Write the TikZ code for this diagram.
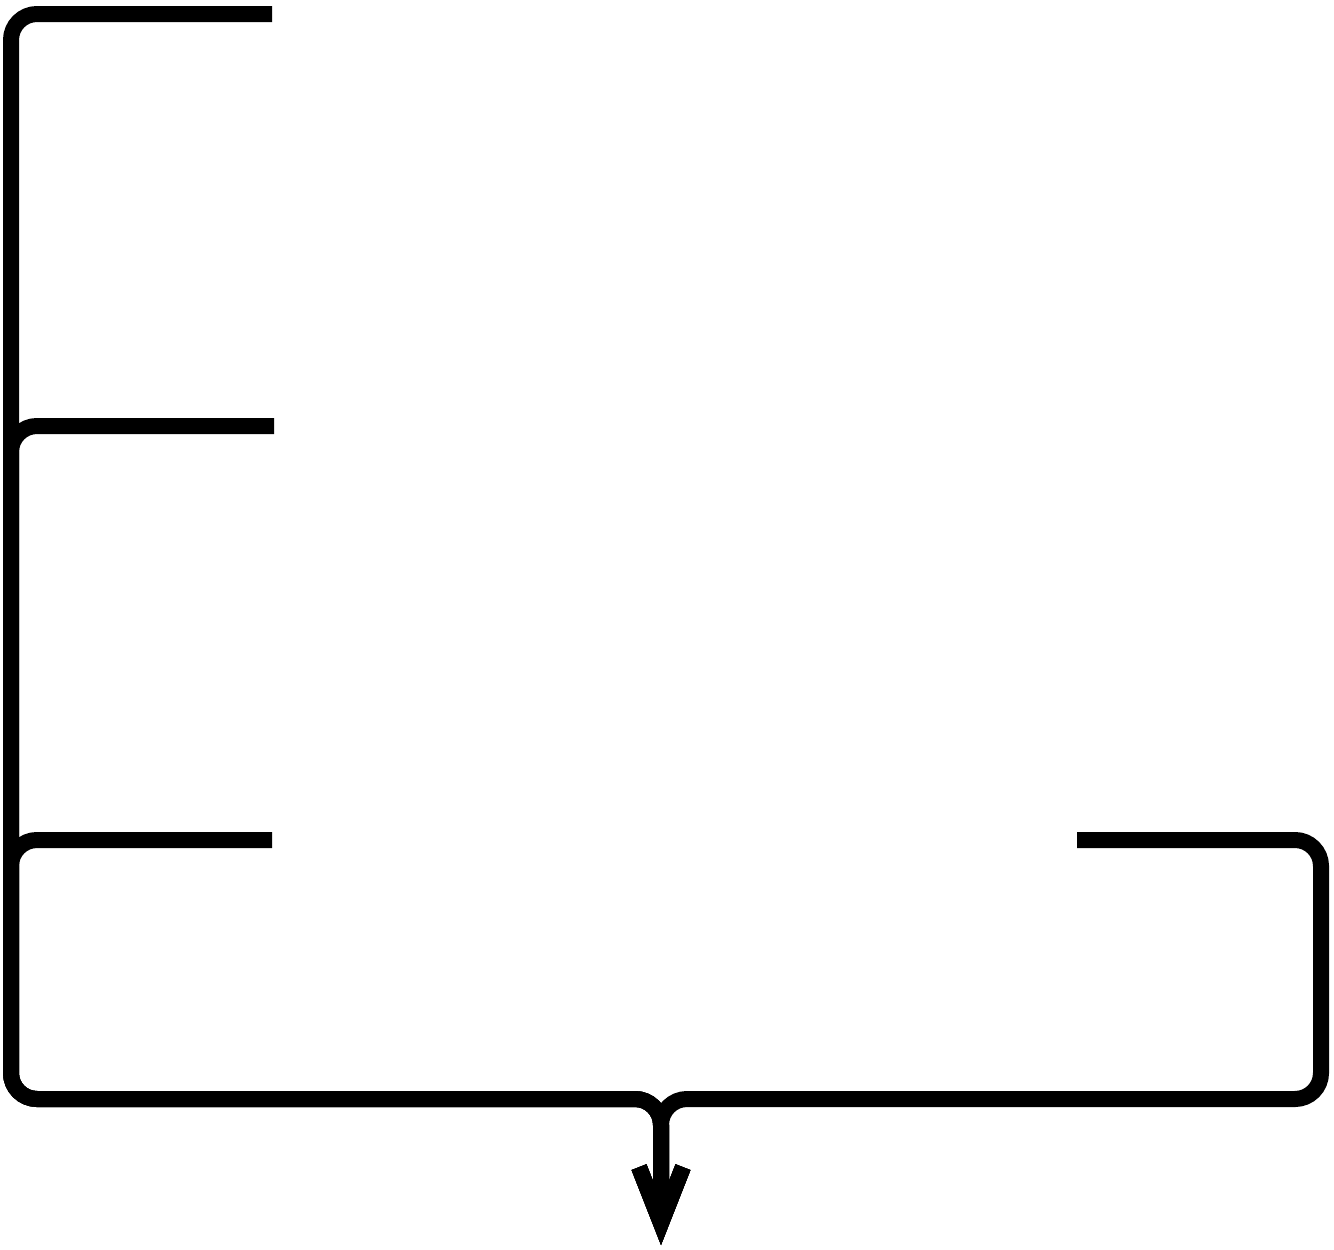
\documentclass[tikz,border=0pt]{standalone}
\usepackage{tikz}
\usetikzlibrary{calc,positioning,arrows.meta}

\begin{document}
\begin{tikzpicture}[x=1pt,y=-1pt,line width=16pt,rounded corners=26pt]
    \useasboundingbox (0,0) rectangle (1334,1250);
    \pgfmathsetmacro{\xl}{11}
    \pgfmathsetmacro{\xr}{1321}
    \pgfmathsetmacro{\yb}{1099}

    \coordinate (A) at (272,14);
    \coordinate (B) at (274,426);
    \coordinate (C) at (272,840);
    \coordinate (D) at (1077,840);

    \coordinate (J) at (661,\yb);
    \coordinate (O) at (661,1245);

    \tikzset{flow/.style={-{Straight Barb[length=56pt,width=44pt]}}}

    \draw[flow] (A) -- (\xl,14) -- (\xl,\yb) -- (J) -- (O);
    \draw[flow] (B) -- (\xl,426) -- (\xl,\yb) -- (J) -- (O);
    \draw[flow] (C) -- (\xl,840) -- (\xl,\yb) -- (J) -- (O);
    \draw[flow] (D) -- (\xr,840) -- (\xr,\yb) -- (J) -- (O);
\end{tikzpicture}
\end{document}
